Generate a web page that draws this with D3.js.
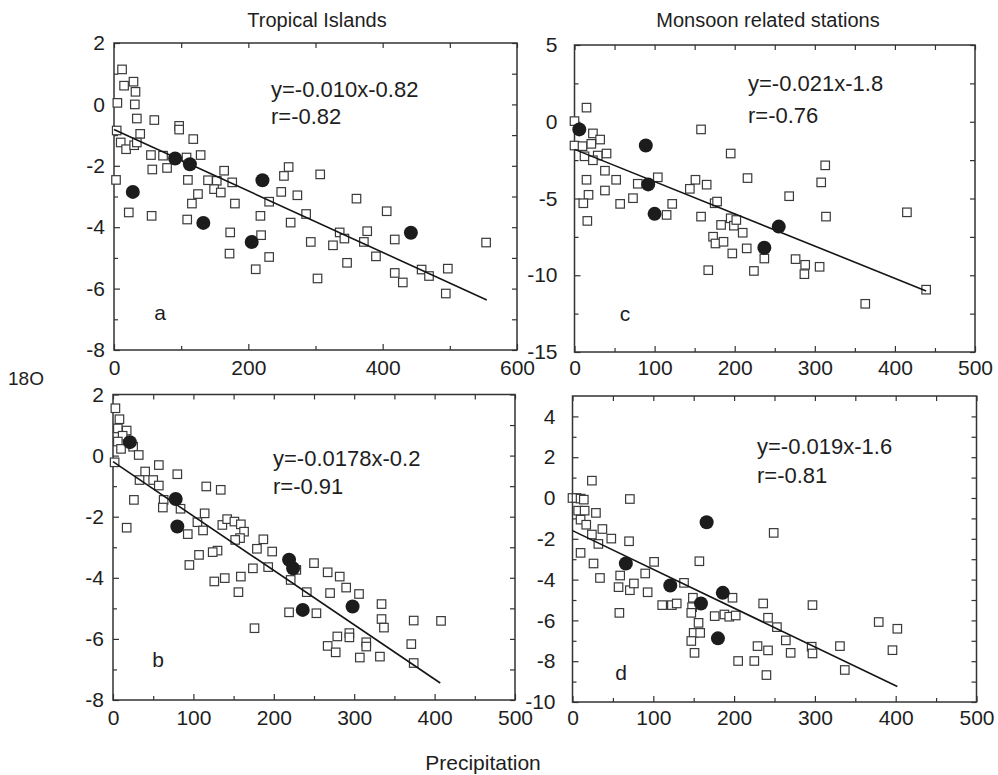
<!DOCTYPE html>
<html><head><meta charset="utf-8">
<script src="https://cdn.jsdelivr.net/npm/d3@7"></script>
<style>
body{margin:0;background:#fff}
svg{display:block}
text{font-family:"Liberation Sans",Arial,Helvetica,sans-serif;fill:#1e1e1e}
</style></head>
<body><svg id="chart" width="998" height="775"></svg>
<script>
// ---------- data ----------
// Panel a: Tropical Islands (upper)
const aOpenX = [12,15,29,32,5,31,34,60,97,97,118,4,39,10,18,30,34,55,73,108,129,57,79,3,110,140,153,164,176,149,159,125,116,180,22,56,109,218,173,219,172,231,211,253,260,249,273,231,286,263,307,293,303,326,336,343,347,361,372,377,390,406,418,418,430,458,469,497,494,554];
const aOpenY = [1.14,0.61,0.74,0.41,0.05,0,-0.46,-0.51,-0.70,-0.82,-1.13,-0.85,-0.96,-1.24,-1.46,-1.33,-1.24,-1.65,-1.67,-1.73,-1.65,-2.12,-2.07,-2.46,-2.46,-2.47,-2.49,-2.16,-2.54,-2.76,-2.87,-2.92,-3.23,-3.23,-3.52,-3.63,-3.75,-3.63,-4.17,-4.26,-4.86,-4.97,-5.37,-2.33,-2.04,-2.85,-2.96,-3.17,-3.57,-3.85,-2.28,-4.48,-5.67,-4.59,-4.17,-4.37,-5.16,-3.07,-4.48,-4.13,-4.95,-3.48,-4.40,-5.49,-5.80,-5.38,-5.59,-5.35,-6.16,-4.50];
const aFilledX = [28,91,113,133,221,205,442];
const aFilledY = [-2.85,-1.76,-1.95,-3.86,-2.47,-4.48,-4.18];

// Panel b: Tropical Islands (lower)
const bOpenX = [3,8,6,17,12,6,10,25,32,2,57,40,33,50,80,57,26,63,62,84,116,134,114,105,112,93,17,136,142,151,159,163,158,152,179,187,198,193,130,124,107,95,174,159,139,126,156,176,219,221,228,241,250,253,267,270,282,290,306,279,267,277,294,294,315,315,307,332,334,334,337,374,408,371,374];
const bOpenY = [1.55,1.19,0.89,0.82,0.65,0.46,0.22,0.29,0.02,-0.22,-0.31,-0.52,-0.80,-0.80,-0.61,-0.98,-1.45,-1.45,-1.70,-1.74,-1.01,-1.12,-1.89,-2.18,-2.45,-2.57,-2.36,-2.27,-2.08,-2.16,-2.25,-2.49,-2.70,-2.76,-3.05,-2.74,-3.14,-3.65,-3.11,-3.16,-3.25,-3.58,-3.69,-3.96,-4.01,-4.12,-4.47,-5.65,-5.13,-4.07,-3.74,-4.47,-3.52,-5.16,-3.82,-4.50,-3.96,-4.32,-4.53,-5.92,-6.23,-6.44,-5.81,-5.95,-6.11,-6.25,-6.61,-6.58,-4.86,-5.35,-5.63,-5.40,-5.41,-6.17,-6.79];
const bFilledX = [21,78,80,219,224,236,298];
const bFilledY = [0.44,-1.42,-2.32,-3.41,-3.69,-5.05,-4.94];

// Panel c: Monsoon related stations (upper)
const cOpenX = [0,15,23,32,0,10,21,29,40,12.5,23,38,15,52,38,17.5,11,16,57,73,79,104,115,122,158,195,216,151,144,165,175,178,158,183,195,199,210,173,176,186,197,215,237,167,224,268,308,313,314,276,288,287,306,415,363,439,202];
const cOpenY = [0.04,0.92,-0.76,-1.16,-1.55,-1.59,-1.44,-2.2,-2.07,-2.25,-2.51,-3.19,-3.78,-3.78,-4.48,-4.76,-5.31,-6.46,-5.35,-4.98,-4.04,-3.62,-6.07,-5.35,-0.5,-2.07,-3.67,-3.78,-4.37,-4.10,-5.31,-5.2,-6.18,-6.72,-6.29,-6.77,-7.23,-7.49,-7.93,-7.82,-8.58,-8.25,-8.91,-9.67,-9.72,-4.85,-3.95,-2.84,-6.18,-8.95,-9.32,-9.93,-9.45,-5.90,-11.86,-10.94,-6.40];
const cFilledX = [6,89,92,100,255,237];
const cFilledY = [-0.5,-1.55,-4.08,-6.0,-6.83,-8.21];

// Panel d: Monsoon related stations (lower)
const dOpenX = [0,5,10,14,24,71,7,15,29,10,17,37,24,48,32,70,10,26,34,59,101,90,57,71,76,93,58,111,123,129,138,157,249,149,148,147,176,188,194,202,198,156,150,158,147,151,236,242,253,264,229,242,270,205,225,240,297,296,297,331,337,379,402,396];
const dOpenY = [0,0,-0.03,-0.08,0.85,-0.05,-0.62,-0.62,-0.73,-1.06,-1.31,-1.52,-1.79,-1.99,-2.25,-2.12,-2.69,-3.21,-3.92,-3.80,-3.13,-3.70,-4.37,-4.52,-4.19,-4.62,-5.63,-5.25,-5.25,-5.17,-4.16,-3.10,-1.71,-4.89,-5.35,-5.63,-5.79,-5.71,-5.82,-5.76,-4.89,-6.12,-6.61,-6.61,-7.01,-7.59,-5.17,-5.87,-6.33,-6.98,-7.26,-7.47,-7.59,-7.99,-7.99,-8.68,-5.25,-7.29,-7.62,-7.26,-8.43,-6.08,-6.41,-7.46];
const dFilledX = [166,66,121,159,186,180];
const dFilledY = [-1.19,-3.21,-4.29,-5.17,-4.65,-6.88];

// regression fits, panel order a, b, c, d
const fitSlope = [-0.010, -0.0178, -0.021, -0.019];
const fitIntercept = [-0.82, -0.2, -1.8, -1.6];
const fitXMax = [555, 407, 439, 402];
const fitEquation = ["y=-0.010x-0.82", "y=-0.0178x-0.2", "y=-0.021x-1.8", "y=-0.019x-1.6"];
const fitR = ["r=-0.82", "r=-0.91", "r=-0.76", "r=-0.81"];
const panelLetters = ["a", "b", "c", "d"];

// axis ticks
const xTicksA = [0, 200, 400, 600], xMinorA = [100, 300, 500];
const xTicks500 = [0, 100, 200, 300, 400, 500], xMinor500 = [50, 150, 250, 350, 450];
const yTicksAB = [-8, -6, -4, -2, 0, 2], yMinorAB = [-7, -5, -3, -1, 1];
const yTicksC = [-15, -10, -5, 0, 5], yMinorC = [-12.5, -7.5, -2.5, 2.5];
const yTicksD = [-10, -8, -6, -4, -2, 0, 2, 4], yMinorD = [-9, -7, -5, -3, -1, 1, 3];

const columnTitles = ["Tropical Islands", "Monsoon related stations"];
const yAxisTitle = "18O";
const xAxisTitle = "Precipitation";

// ---------- drawing ----------
const svg = d3.select("#chart");
const fmt = d => String(d);

const panels = [
  {i:0, ox:aOpenX, oy:aOpenY, fx:aFilledX, fy:aFilledY, xd:[0,600], yd:[-8,2], L:114, R:517, T:43, B:350,
   xt:xTicksA, xm:xMinorA, yt:yTicksAB, ym:yMinorAB, ylPad:9, xlPad:10, eq:[271,97,124], let:[160,320]},
  {i:1, ox:bOpenX, oy:bOpenY, fx:bFilledX, fy:bFilledY, xd:[0,500], yd:[-8,2], L:113, R:515, T:394.5, B:700,
   xt:xTicks500, xm:xMinor500, yt:yTicksAB, ym:yMinorAB, ylPad:9, xlPad:10, eq:[273,466,494], let:[158,667]},
  {i:2, ox:cOpenX, oy:cOpenY, fx:cFilledX, fy:cFilledY, xd:[0,500], yd:[-15,5], L:574.5, R:975, T:45, B:352,
   xt:xTicks500, xm:xMinor500, yt:yTicksC, ym:yMinorC, ylPad:17, xlPad:8, eq:[748,91,123], let:[625,321]},
  {i:3, ox:dOpenX, oy:dOpenY, fx:dFilledX, fy:dFilledY, xd:[0,500], yd:[-10,5], L:572.5, R:976.5, T:396, B:702,
   xt:xTicks500, xm:xMinor500, yt:yTicksD, ym:yMinorD, ylPad:17, xlPad:8, eq:[757,454,483], let:[621,680]}
];

panels.forEach(p => {
  const x = d3.scaleLinear().domain(p.xd).range([p.L, p.R]);
  const y = d3.scaleLinear().domain(p.yd).range([p.B, p.T]);
  const g = svg.append("g");

  const styleAxis = sel => {
    sel.select(".domain").remove();
    sel.selectAll("line").attr("stroke", "#333").attr("stroke-width", 1.2);
    sel.selectAll("text").attr("font-size", 21).attr("fill", "#1e1e1e")
       .attr("font-family", '"Liberation Sans",Arial,sans-serif');
  };

  g.append("g").attr("transform", `translate(0,${p.B})`)
    .call(d3.axisBottom(x).tickValues(p.xt).tickSize(-6).tickPadding(p.xlPad).tickFormat(fmt))
    .call(styleAxis);
  g.append("g").attr("transform", `translate(0,${p.T})`)
    .call(d3.axisTop(x).tickValues(p.xt.concat(p.xm)).tickSize(-5).tickFormat(""))
    .call(styleAxis);
  g.append("g").attr("transform", `translate(0,${p.B})`)
    .call(d3.axisBottom(x).tickValues(p.xm).tickSize(-4).tickFormat(""))
    .call(styleAxis);
  g.append("g").attr("transform", `translate(${p.L},0)`)
    .call(d3.axisLeft(y).tickValues(p.yt).tickSize(-6).tickPadding(p.ylPad).tickFormat(fmt))
    .call(styleAxis);
  g.append("g").attr("transform", `translate(${p.L},0)`)
    .call(d3.axisLeft(y).tickValues(p.ym).tickSize(-4).tickFormat(""))
    .call(styleAxis);
  g.append("g").attr("transform", `translate(${p.R},0)`)
    .call(d3.axisRight(y).tickValues(p.yt.concat(p.ym)).tickSize(-5).tickFormat(""))
    .call(styleAxis);

  g.append("rect").attr("x", p.L).attr("y", p.T).attr("width", p.R - p.L).attr("height", p.B - p.T)
    .attr("fill", "none").attr("stroke", "#333").attr("stroke-width", 1.5);

  const s = 8.5;
  g.append("g").selectAll("rect").data(d3.zip(p.ox, p.oy)).join("rect")
    .attr("x", d => x(d[0]) - s / 2).attr("y", d => y(d[1]) - s / 2)
    .attr("width", s).attr("height", s)
    .attr("fill", "#fff").attr("stroke", "#3a3a3a").attr("stroke-width", 1.2);

  const k = p.i;
  const fitPts = [0, fitXMax[k]].map(v => [v, fitSlope[k] * v + fitIntercept[k]]);
  g.append("path").datum(fitPts)
    .attr("d", d3.line().x(d => x(d[0])).y(d => y(d[1])))
    .attr("fill", "none").attr("stroke", "#151515").attr("stroke-width", 1.6);

  g.append("g").selectAll("circle").data(d3.zip(p.fx, p.fy)).join("circle")
    .attr("cx", d => x(d[0])).attr("cy", d => y(d[1])).attr("r", 7)
    .attr("fill", "#1c1c1c");

  g.append("text").attr("x", p.eq[0]).attr("y", p.eq[1]).attr("font-size", 22).text(fitEquation[k]);
  g.append("text").attr("x", p.eq[0]).attr("y", p.eq[2]).attr("font-size", 22).text(fitR[k]);
  g.append("text").attr("x", p.let[0]).attr("y", p.let[1]).attr("font-size", 21)
    .attr("text-anchor", "middle").text(panelLetters[k]);
});

svg.append("text").attr("x", 317).attr("y", 27).attr("font-size", 20).attr("text-anchor", "middle").text(columnTitles[0]);
svg.append("text").attr("x", 768).attr("y", 27).attr("font-size", 20).attr("text-anchor", "middle").text(columnTitles[1]);
svg.append("text").attr("x", 8).attr("y", 385).attr("font-size", 19).text(yAxisTitle);
svg.append("text").attr("x", 483).attr("y", 770).attr("font-size", 21).attr("text-anchor", "middle").text(xAxisTitle);
</script>
</body></html>
